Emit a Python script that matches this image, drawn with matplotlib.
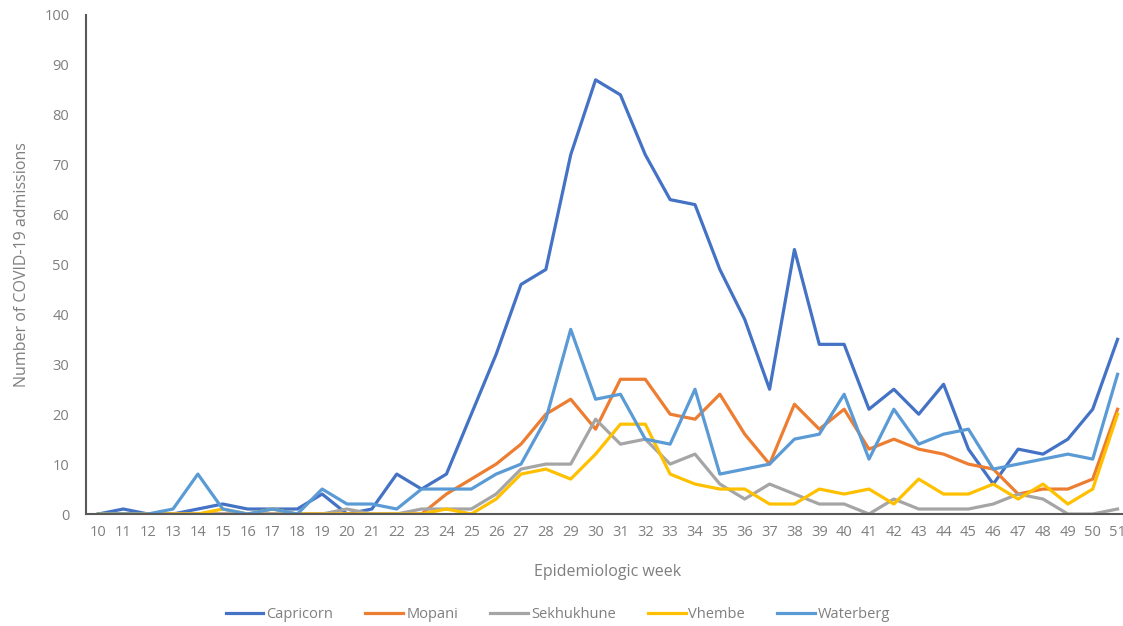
import matplotlib.pyplot as plt

# ------------------------------
# Data
# ------------------------------
weeks = list(range(10, 52))

capricorn = [0, 1, 0, 0, 1, 2, 1, 1, 1, 4, 0, 1, 8, 5, 8, 20, 32, 46, 49, 72, 87,
             84, 72, 63, 62, 49, 39, 25, 53, 34, 34, 21, 25, 20, 26, 13, 6, 13, 12, 15, 21, 35]
mopani = [0, 0, 0, 0, 0, 0, 0, 0, 0, 0, 0, 0, 0, 0, 4, 7, 10, 14, 20, 23, 17,
          27, 27, 20, 19, 24, 16, 10, 22, 17, 21, 13, 15, 13, 12, 10, 9, 4, 5, 5, 7, 21]
sekhukhune = [0, 0, 0, 0, 0, 0, 0, 0, 0, 0, 1, 0, 0, 1, 1, 1, 4, 9, 10, 10, 19,
              14, 15, 10, 12, 6, 3, 6, 4, 2, 2, 0, 3, 1, 1, 1, 2, 4, 3, 0, 0, 1]
vhembe = [0, 0, 0, 0, 0, 1, 0, 1, 0, 0, 0, 0, 0, 0, 1, 0, 3, 8, 9, 7, 12,
          18, 18, 8, 6, 5, 5, 2, 2, 5, 4, 5, 2, 7, 4, 4, 6, 3, 6, 2, 5, 20]
waterberg = [0, 0, 0, 1, 8, 1, 0, 1, 0, 5, 2, 2, 1, 5, 5, 5, 8, 10, 19, 37, 23,
             24, 15, 14, 25, 8, 9, 10, 15, 16, 24, 11, 21, 14, 16, 17, 9, 10, 11, 12, 11, 28]

series = [
    ("Capricorn", capricorn, "#4472C4"),
    ("Mopani", mopani, "#ED7D31"),
    ("Sekhukhune", sekhukhune, "#A5A5A5"),
    ("Vhembe", vhembe, "#FFC000"),
    ("Waterberg", waterberg, "#5B9BD5"),
]

plt.rcParams["font.family"] = ["Open Sans", "DejaVu Sans"]

fig = plt.figure(figsize=(11.23, 6.26), dpi=100)
ax = fig.add_axes([86 / 1123, 112 / 626, 1044 / 1123, 499 / 626])

for name, vals, col in series:
    ax.plot(weeks, vals, color=col, lw=2.3, label=name, solid_joinstyle="round")

ax.set_xlim(9.5, 51.5)
ax.set_ylim(0, 100)
ax.set_xticks(weeks)
ax.set_yticks(range(0, 101, 10))
ax.tick_params(axis="both", length=0, labelsize=10.5, colors="#7f7f7f", pad=8)
ax.tick_params(axis="y", pad=12)

for s in ["top", "right"]:
    ax.spines[s].set_visible(False)
for s in ["left", "bottom"]:
    ax.spines[s].set_color("#595959")
    ax.spines[s].set_linewidth(1.5)

ax.set_ylabel("Number of COVID-19 admissions", fontsize=11.5, color="#7f7f7f", labelpad=10)
ax.set_xlabel("Epidemiologic week", fontsize=11.5, color="#7f7f7f", labelpad=17)

fig.legend(loc="center", bbox_to_anchor=(558 / 1123, 1 - 615 / 626), ncol=5,
           frameon=False, fontsize=10.5, handlelength=2.6, handletextpad=0.2,
           columnspacing=2.2, labelcolor="#7f7f7f")

fig.savefig("out.png", dpi=100)
